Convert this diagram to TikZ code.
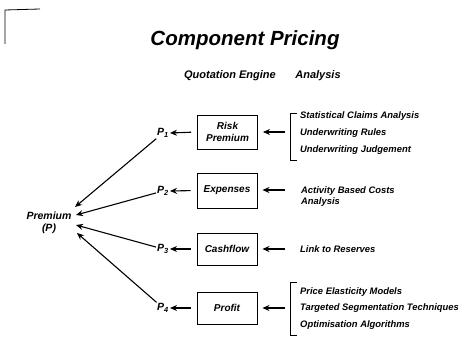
\documentclass[tikz,border=0pt]{standalone}
\usepackage{fontspec}
\setmainfont{Liberation Sans}
\usetikzlibrary{arrows.meta}
\begin{document}
\begin{tikzpicture}[x=1pt,y=-1pt,
  txt/.style={font=\fontsize{9.4}{11.5}\selectfont\bfseries\itshape, inner sep=0pt, anchor=west},
  hdr/.style={font=\fontsize{11}{13}\selectfont\bfseries\itshape, inner sep=0pt},
  comp/.style={draw, line width=0.9pt, minimum width=60pt, minimum height=33pt, align=center,
    font=\fontsize{10}{12}\selectfont\bfseries\itshape, inner sep=1pt},
  plab/.style={font=\fontsize{10.5}{12}\selectfont\bfseries\itshape, inner sep=1pt},
  arr/.style={line width=1.1pt, -{Stealth[length=7pt,width=6pt]}},
  brk/.style={line width=0.9pt}]
\useasboundingbox (0,0) rectangle (476,361);
% corner mark
\draw[line width=0.8pt] (5,44) -- (5,10) -- (40,9);
% title
\node[font=\fontsize{20.5}{23}\selectfont\bfseries\itshape] (title) at (245,40) {Component Pricing};
\node[hdr] (qe) at (230,76) {Quotation Engine};
\node[hdr] (an) at (318,76) {Analysis};
% boxes
\node[comp, minimum height=34pt] (risk) at (227.5,132) {Risk\\Premium};
\node[comp, minimum height=35pt] (exp) at (227,190.5) {Expenses};
\node[comp, minimum height=32pt] (cash) at (227,249) {Cashflow};
\node[comp, minimum height=32pt] (prof) at (227,308) {Profit};
% P labels
\node[plab] (p1) at (163,133) {P\textsubscript{1}};
\node[plab] (p2) at (163,191) {P\textsubscript{2}};
\node[plab] (p3) at (163,249) {P\textsubscript{3}};
\node[plab] (p4) at (163,308) {P\textsubscript{4}};
% premium
\node[align=center, font=\fontsize{10.5}{12.5}\selectfont\bfseries\itshape] (prem) at (49,223) {Premium\\(P)};
\coordinate (e1) at (75,207);
\coordinate (e2) at (76,215);
\coordinate (e3) at (76,225);
\coordinate (e4) at (77,233);
\draw[arr] (p1) -- (e1);
\draw[arr] (p2) -- (e2);
\draw[arr] (p3) -- (e3);
\draw[arr] (p4) -- (e4);
% box -> P arrows
\draw[arr, shorten <=6pt] (risk.west) -- (p1.east);
\draw[arr, shorten <=6pt] (exp.west) -- (p2.east);
\draw[arr, shorten <=6pt] (cash.west) -- (p3.east);
\draw[arr, shorten <=6pt] (prof.west) -- (p4.east);
% analysis arrows
\coordinate (a1) at (285,132);
\coordinate (a2) at (285,190);
\coordinate (a3) at (285,249);
\coordinate (a4) at (285,308);
\draw[arr, shorten >=5pt] (a1) -- (risk.east |- a1);
\draw[arr, shorten >=5pt] (a2) -- (exp.east |- a2);
\draw[arr, shorten >=5pt] (a3) -- (cash.east |- a3);
\draw[arr, shorten >=5pt] (a4) -- (prof.east |- a4);
% brackets
\draw[brk] (297,113) -- (290,113) -- (290,160) -- (297,160);
\draw[brk] (297,282) -- (290,282) -- (290,335) -- (297,335);
% analysis texts
\node[txt] (t1) at (300,116) {Statistical Claims Analysis};
\node[txt] (t2) at (300,133) {Underwriting Rules};
\node[txt] (t3) at (300,150) {Underwriting Judgement};
\node[txt, align=left] (t4) at (301,196.5) {Activity Based Costs\\Analysis};
\node[txt] (t5) at (300,249) {Link to Reserves};
\node[txt] (t6) at (300,292) {Price Elasticity Models};
\node[txt] (t7) at (300,308) {Targeted Segmentation Techniques};
\node[txt] (t8) at (300,325) {Optimisation Algorithms};
\end{tikzpicture}
\end{document}
